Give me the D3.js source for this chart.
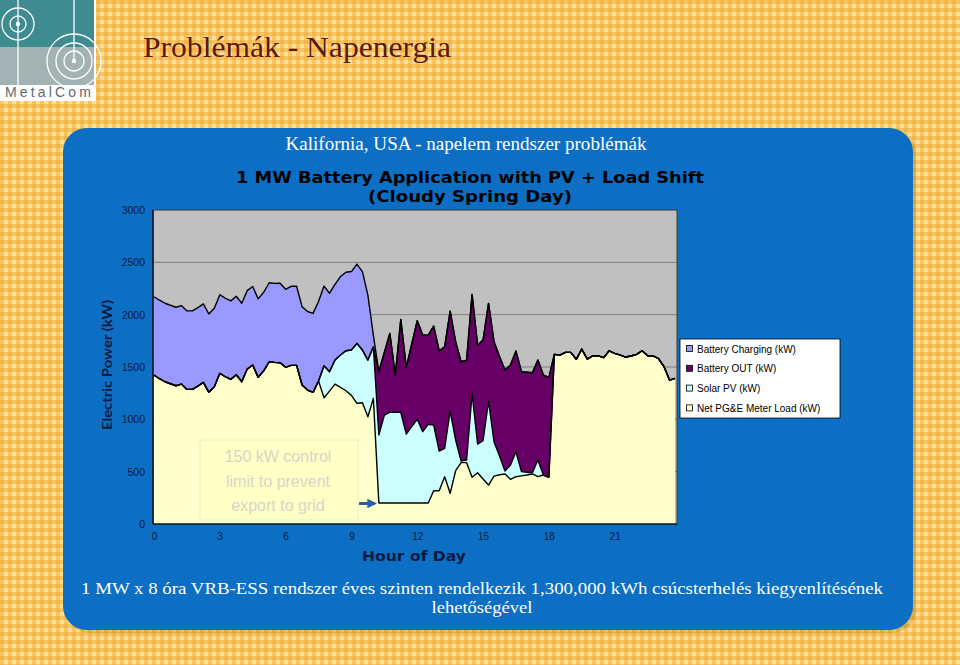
<!DOCTYPE html>
<html><head><meta charset="utf-8">
<script src="https://cdn.jsdelivr.net/npm/d3@7/dist/d3.min.js"></script>
<style>body{margin:0;background:#fff}svg{display:block}</style>
</head><body>
<svg id="c" width="960" height="665"></svg>
<script>
// ---------- data ----------
const hours = d3.range(0, 24, 0.25);           // 96 quarter-hour categories
const xTickLabels = [0, 3, 6, 9, 12, 15, 18, 21];
const yTickLabels = [0, 500, 1000, 1500, 2000, 2500, 3000];

const netLoad = [1423,1388,1359,1340,1321,1337,1286,1286,1318,1353,1258,1311,1439,1407,1382,1426,1359,1480,1519,1401,1464,1550,1544,1541,
  1497,1516,1516,1328,1280,1258,1366,1206,1270,1337,1305,1273,1229,1153,1159,1025,1200,
  200,200,200,200,200,200,200,200,200,200,318,318,452,293,509,586,586,446,490,430,372,458,470,478,427,452,460,468,478,452,468,446,
  1621,1614,1640,1640,1573,1671,1576,1607,1607,1589,1655,1630,1614,1595,1605,1621,1655,1607,1607,1579,1503,1375,1391];
const solarPV = [0,0,0,0,0,0,0,0,0,0,0,0,0,0,0,0,0,0,0,0,0,0,0,0,
  0,0,0,0,0,0,0,306,185,229,309,382,433,573,503,541,493,
  650,840,867,867,867,660,730,800,682,752,628,379,271,786,293,16,25,802,274,366,802,328,180,28,136,238,40,27,12,159,0,0,
  0,0,0,0,0,0,0,0,0,0,0,0,0,0,0,0,0,0,0,0,0,0,0];
const batteryOut = [0,0,0,0,0,0,0,0,0,0,0,0,0,0,0,0,0,0,0,0,0,0,0,0,
  0,0,0,0,0,0,0,0,0,0,0,0,0,0,0,0,0,
  605,600,754,356,888,637,790,942,923,853,945,958,970,955,939,948,955,946,946,961,934,955,950,965,956,962,955,955,955,955,955,955,
  0,0,0,0,0,0,0,0,0,0,0,0,0,0,0,0,0,0,0,0,0,0,0];
const batteryCharging = [748,750,750,750,750,750,750,750,750,750,748,750,752,750,750,750,750,750,750,750,750,755,755,760,
  745,755,755,748,750,754,760,761,750,723,750,750,750,757,750,620,110,
  0,0,0,0,0,0,0,0,0,0,0,0,0,0,0,0,0,0,0,0,0,0,0,0,0,0,0,0,0,0,0,0,
  0,0,0,0,0,0,0,0,0,0,0,0,0,0,0,0,0,0,0,0,0,0,0];

const seriesKeys   = ["load", "solar", "out", "chg"];
const seriesNames  = ["Net PG&E Meter Load (kW)", "Solar PV (kW)", "Battery OUT (kW)", "Battery Charging (kW)"];
const seriesColors = ["#ffffcc", "#ccffff", "#660066", "#9999ff"];

// ---------- page ----------
const svg = d3.select("#c");
const defs = svg.append("defs");
const pat = defs.append("pattern").attr("id", "ging").attr("patternUnits", "userSpaceOnUse")
  .attr("width", 8).attr("height", 8);
pat.append("rect").attr("width", 8).attr("height", 8).attr("fill", "#fcdf98");
pat.append("rect").attr("width", 4).attr("height", 8).attr("fill", "rgba(240,165,35,0.45)");
pat.append("rect").attr("width", 8).attr("height", 4).attr("fill", "rgba(240,165,35,0.45)");
svg.append("rect").attr("width", 960).attr("height", 665).attr("fill", "url(#ging)");

// logo
const logo = svg.append("g");
logo.append("rect").attr("x", 0).attr("y", 0).attr("width", 96).attr("height", 101).attr("fill", "#ffffff");
logo.append("rect").attr("x", 0).attr("y", 0).attr("width", 94).attr("height", 47).attr("fill", "#3f8b92");
logo.append("rect").attr("x", 0).attr("y", 47).attr("width", 94).attr("height", 38).attr("fill", "#a3b3b4");
const lg = logo.append("g").attr("fill", "none").attr("stroke", "#ffffff").attr("stroke-width", 1.3);
[8, 16].forEach(r => lg.append("circle").attr("cx", 18).attr("cy", 24).attr("r", r));
[10, 18, 27].forEach(r => lg.append("circle").attr("cx", 74).attr("cy", 61).attr("r", r));
lg.append("line").attr("x1", 18).attr("y1", 0).attr("x2", 18).attr("y2", 85);
lg.append("line").attr("x1", 74).attr("y1", 0).attr("x2", 74).attr("y2", 61);
logo.append("circle").attr("cx", 18).attr("cy", 24).attr("r", 2.2).attr("fill", "#fff");
logo.append("circle").attr("cx", 74).attr("cy", 61).attr("r", 2.2).attr("fill", "#fff");
logo.append("text").attr("x", 48).attr("y", 97).attr("text-anchor", "middle")
  .attr("font-family", "Liberation Sans, Arial, sans-serif").attr("font-size", 14)
  .attr("textLength", 86).attr("lengthAdjust", "spacing").attr("fill", "#5e6b6c").text("MetalCom");

svg.append("text").attr("x", 143).attr("y", 57)
  .attr("font-family", "Liberation Serif, serif").attr("font-size", 30)
  .attr("textLength", 308).attr("lengthAdjust", "spacingAndGlyphs")
  .attr("fill", "#5a1a10").text("Problémák - Napenergia");

// blue panel
svg.append("rect").attr("x", 66).attr("y", 131).attr("width", 850).attr("height", 502).attr("rx", 24)
  .attr("fill", "rgba(120,80,0,0.2)");
svg.append("rect").attr("x", 63).attr("y", 128).attr("width", 850).attr("height", 502).attr("rx", 24)
  .attr("fill", "#0c6fc3");

svg.append("text").attr("x", 466).attr("y", 150).attr("text-anchor", "middle")
  .attr("font-family", "Liberation Serif, serif").attr("font-size", 18).attr("fill", "#ffffff")
  .attr("textLength", 361).attr("lengthAdjust", "spacingAndGlyphs")
  .text("Kalifornia, USA - napelem rendszer problémák");

const titleG = svg.append("g").attr("font-family", "DejaVu Sans, Verdana, sans-serif")
  .attr("font-weight", "bold").attr("font-size", 16).attr("fill", "#000000").attr("text-anchor", "middle");
titleG.append("text").attr("x", 470).attr("y", 183).attr("textLength", 468).attr("lengthAdjust", "spacingAndGlyphs")
  .text("1 MW Battery Application with PV + Load Shift");
titleG.append("text").attr("x", 470).attr("y", 202).attr("textLength", 204).attr("lengthAdjust", "spacingAndGlyphs")
  .text("(Cloudy Spring Day)");

// ---------- chart ----------
const plot = {left: 153, right: 677, top: 210, bottom: 524};
const x = d3.scaleLinear().domain([0, 23.75]).range([154, 675]);
const y = d3.scaleLinear().domain([0, 3000]).range([plot.bottom, plot.top]);

svg.append("rect").attr("x", plot.left).attr("y", plot.top)
  .attr("width", plot.right - plot.left).attr("height", plot.bottom - plot.top).attr("fill", "#c0c0c0");

// gridlines
svg.append("g").selectAll("line").data(yTickLabels.filter(v => v > 0 && v < 3000)).join("line")
  .attr("x1", plot.left).attr("x2", plot.right).attr("y1", d => y(d)).attr("y2", d => y(d))
  .attr("stroke", "#808080").attr("stroke-width", 1);

const rows = hours.map((h, i) => ({h, load: netLoad[i], solar: solarPV[i], out: batteryOut[i], chg: batteryCharging[i]}));
const stacked = d3.stack().keys(seriesKeys)(rows);

const area = d3.area().x(d => x(d.data.h)).y0(d => y(d[0])).y1(d => y(d[1]));
const line = d3.line().x(d => x(d.data.h)).y(d => y(d[1]));

svg.append("g").selectAll("path").data(stacked).join("path")
  .attr("d", area).attr("fill", (d, i) => seriesColors[i]);
svg.append("g").selectAll("path").data(stacked).join("path")
  .attr("d", line).attr("fill", "none").attr("stroke", "#000000").attr("stroke-width", 1.4)
  .attr("stroke-linejoin", "round");

// frame
svg.append("rect").attr("x", plot.left).attr("y", plot.top)
  .attr("width", plot.right - plot.left).attr("height", plot.bottom - plot.top)
  .attr("fill", "none").attr("stroke", "#3a3a3a").attr("stroke-width", 1);
svg.append("line").attr("x1", plot.left).attr("x2", plot.left).attr("y1", plot.top).attr("y2", plot.bottom)
  .attr("stroke", "#000").attr("stroke-width", 1.2);
svg.append("line").attr("x1", plot.left).attr("x2", plot.right).attr("y1", plot.bottom).attr("y2", plot.bottom)
  .attr("stroke", "#000").attr("stroke-width", 1.2);

// axes (labels only, as in the reference)
const yAxis = d3.axisLeft(y).tickValues(yTickLabels).tickFormat(d3.format("d")).tickSize(0).tickPadding(8);
const yg = svg.append("g").attr("transform", `translate(${plot.left},0)`).call(yAxis);
yg.select(".domain").remove();
yg.selectAll("text").attr("font-family", "Liberation Sans, Arial, sans-serif").attr("font-size", 10.5).attr("fill", "#0a1a40");

const xAxis = d3.axisBottom(x).tickValues(xTickLabels).tickFormat(d3.format("d")).tickSize(0).tickPadding(9);
const xg = svg.append("g").attr("transform", `translate(0,${plot.bottom})`).call(xAxis);
xg.select(".domain").remove();
xg.selectAll("text").attr("font-family", "Liberation Sans, Arial, sans-serif").attr("font-size", 10).attr("fill", "#0a1a40");

svg.append("text").attr("transform", "translate(112,365) rotate(-90)").attr("text-anchor", "middle")
  .attr("font-family", "Lato, Open Sans, sans-serif").attr("font-weight", "bold").attr("font-size", 14)
  .attr("textLength", 130).attr("lengthAdjust", "spacingAndGlyphs")
  .attr("fill", "#0a1a40").text("Electric Power (kW)");
svg.append("text").attr("x", 414).attr("y", 561).attr("text-anchor", "middle")
  .attr("font-family", "DejaVu Sans, Verdana, sans-serif").attr("font-weight", "bold").attr("font-size", 14)
  .attr("textLength", 104).attr("lengthAdjust", "spacingAndGlyphs")
  .attr("fill", "#0a1a40").text("Hour of Day");

// legend
const lgd = svg.append("g");
lgd.append("rect").attr("x", 680).attr("y", 339).attr("width", 160).attr("height", 79)
  .attr("fill", "#ffffff").attr("stroke", "#000000").attr("stroke-width", 0.8);
const legendOrder = [3, 2, 1, 0];
legendOrder.forEach((si, j) => {
  const cy = 349 + j * 19.8;
  lgd.append("rect").attr("x", 686.5).attr("y", cy - 3.5).attr("width", 6).attr("height", 6)
    .attr("fill", seriesColors[si]).attr("stroke", "#000").attr("stroke-width", 0.8);
  lgd.append("text").attr("x", 697).attr("y", cy + 3.6)
    .attr("font-family", "Liberation Sans, Arial, sans-serif").attr("font-size", 10).attr("fill", "#000")
    .text(seriesNames[si]);
});

// annotation
svg.append("rect").attr("x", 200).attr("y", 440).attr("width", 158).attr("height", 80)
  .attr("fill", "#ffffc6").attr("stroke", "#eeeecc").attr("stroke-width", 1);
const ann = svg.append("g").attr("font-family", "Liberation Sans, Arial, sans-serif").attr("font-size", 16)
  .attr("fill", "#d6d6c6").attr("text-anchor", "middle");
["150 kW control", "limit to prevent", "export to grid"].forEach((t, i) =>
  ann.append("text").attr("x", 278).attr("y", 462 + i * 24.5).text(t));
defs.append("marker").attr("id", "ah").attr("viewBox", "0 0 10 10").attr("refX", 8).attr("refY", 5)
  .attr("markerWidth", 3.2).attr("markerHeight", 3.2).attr("orient", "auto")
  .append("path").attr("d", "M0,0L10,5L0,10z").attr("fill", "#2a5cab");
svg.append("line").attr("x1", 359).attr("y1", 503.5).attr("x2", 375).attr("y2", 503.5)
  .attr("stroke", "#2a5cab").attr("stroke-width", 3).attr("marker-end", "url(#ah)");

// footer text
const ft = svg.append("g").attr("font-family", "Liberation Serif, serif").attr("font-size", 16)
  .attr("fill", "#ffffff").attr("text-anchor", "middle");
ft.append("text").attr("x", 482).attr("y", 594).attr("textLength", 802).attr("lengthAdjust", "spacingAndGlyphs")
  .text("1 MW x 8 óra VRB-ESS rendszer éves szinten rendelkezik 1,300,000 kWh csúcsterhelés kiegyenlítésének");
ft.append("text").attr("x", 482).attr("y", 613).attr("textLength", 101).attr("lengthAdjust", "spacingAndGlyphs")
  .text("lehetőségével");
</script>
</body></html>
